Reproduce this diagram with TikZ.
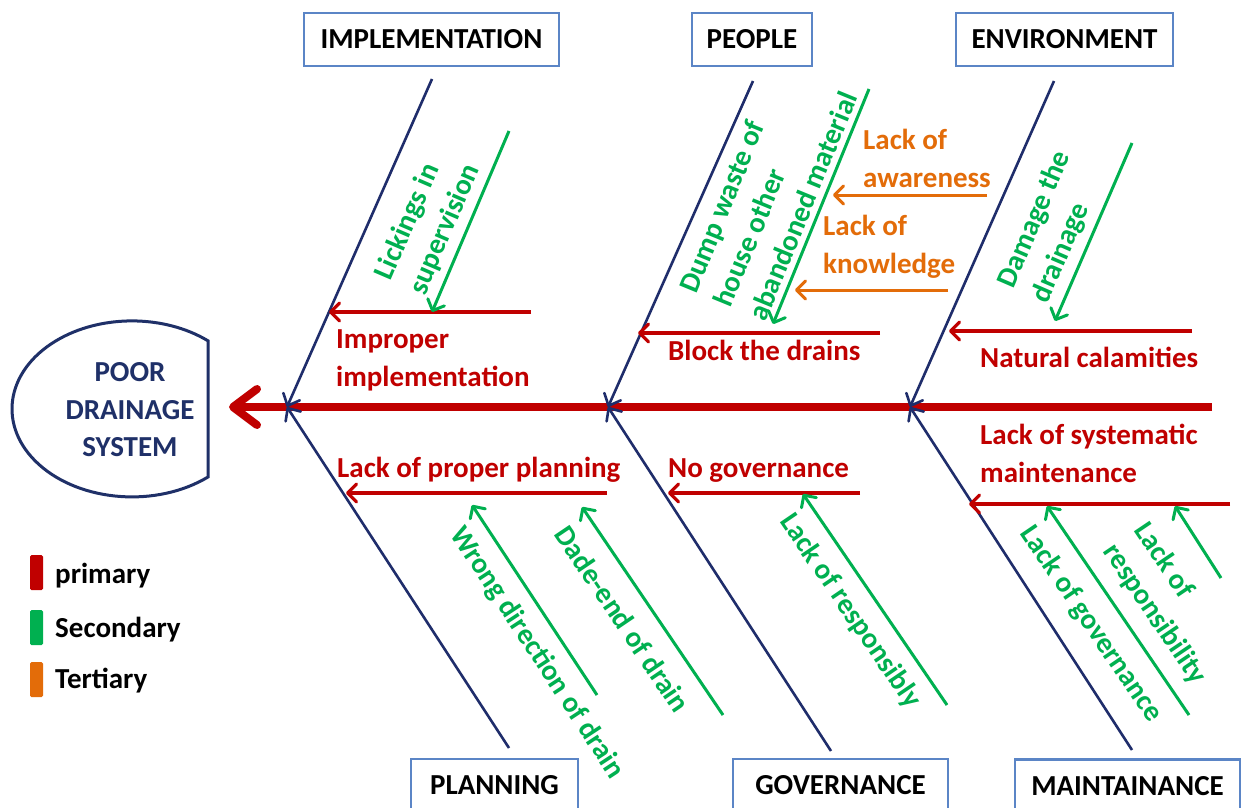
\documentclass[tikz,border=0pt]{standalone}
\usepackage{fontspec}
\setmainfont{Carlito}
\usetikzlibrary{arrows.meta}
\definecolor{pri}{HTML}{C00000}
\definecolor{sec}{HTML}{00B050}
\definecolor{ter}{HTML}{E36C09}
\definecolor{bone}{HTML}{1F2D6B}
\definecolor{headc}{HTML}{1F3068}
\definecolor{boxc}{HTML}{5B85C6}
\begin{document}
\begin{tikzpicture}[x=1pt,y=-1pt,
  lbl/.style={font=\fontsize{29}{37.5}\selectfont\bfseries, inner sep=0pt, align=left},
  catbox/.style={draw=boxc, line width=2.2pt, fill=white, font=\fontsize{29}{34}\selectfont\bfseries, minimum height=53pt, inner sep=0pt, text=black},
  bonearrow/.style={draw=bone, line width=2.6pt, -{Straight Barb[length=10pt,width=18pt,round]}},
  priarrow/.style={draw=pri, line width=3.2pt, -{Straight Barb[length=9pt,width=18pt,round]}},
  secarrow/.style={draw=sec, line width=3pt, -{Straight Barb[length=9pt,width=18pt,round]}},
  terarrow/.style={draw=ter, line width=3pt, -{Straight Barb[length=9pt,width=18pt,round]}},
  prilbl/.style={lbl, text=pri, anchor=base west},
  seclbl/.style={lbl, text=sec, anchor=center},
  terlbl/.style={lbl, text=ter, anchor=base west},
  legbar/.style={rounded corners=1.5pt},
  leglbl/.style={lbl, text=black, anchor=base west}
]
\useasboundingbox (0,0) rectangle (1243,808);
\clip (0,0) rectangle (1243,808);
\fill[white] (0,0) rectangle (1243,808);

% head
\draw[headc, line width=3pt] (208,477) arc[start angle=-50.7, end angle=-309.3, x radius=120pt, y radius=88pt] -- cycle;
\node[lbl, text=headc, align=center, anchor=center] (head) at (130,410) {POOR\\DRAINAGE\\SYSTEM};

% spine
\coordinate (spS) at (1212,407);
\coordinate (spT) at (229,407);
\draw[pri, line width=8pt, -{Straight Barb[length=24pt,width=36pt,round]}] (spS) -- (spT);

% category boxes
\node[catbox, minimum width=255pt] (impl) at (431.5,39.5) {IMPLEMENTATION};
\node[catbox, minimum width=120pt] (people) at (752,39.5) {PEOPLE};
\node[catbox, minimum width=217pt] (env) at (1064.5,39.5) {ENVIRONMENT};
\node[catbox, minimum width=167pt] (plan) at (494.5,785.5) {PLANNING};
\node[catbox, minimum width=215pt] (gov) at (840.5,785.5) {GOVERNANCE};
\node[catbox, minimum width=225pt] (maint) at (1127.5,786) {MAINTAINANCE};

% bones
\coordinate (j1) at (287,407);
\coordinate (j2) at (608,407);
\coordinate (j3) at (910,407);
\coordinate (u1) at (432,79);
\coordinate (u2) at (753,81);
\coordinate (u3) at (1054,81);
\coordinate (l1) at (509,748);
\coordinate (l2) at (831,751);
\coordinate (l3) at (1132,750);
\draw[bonearrow] (u1) -- (j1);
\draw[bonearrow] (u2) -- (j2);
\draw[bonearrow] (u3) -- (j3);
\draw[bonearrow] (l1) -- (j1);
\draw[bonearrow] (l2) -- (j2);
\draw[bonearrow] (l3) -- (j3);

% primary causes
\coordinate (p1s) at (531,312); \coordinate (p1t) at (329,312);
\coordinate (p2s) at (880,333); \coordinate (p2t) at (638,333);
\coordinate (p3s) at (1192,331); \coordinate (p3t) at (949,331);
\coordinate (p4s) at (607,493); \coordinate (p4t) at (346,493);
\coordinate (p5s) at (860,493); \coordinate (p5t) at (668,493);
\coordinate (p6s) at (1230,504); \coordinate (p6t) at (969,504);
\draw[priarrow] (p1s) -- (p1t);
\draw[priarrow] (p2s) -- (p2t);
\draw[priarrow] (p3s) -- (p3t);
\draw[priarrow] (p4s) -- (p4t);
\draw[priarrow] (p5s) -- (p5t);
\draw[priarrow] (p6s) -- (p6t);
\node[prilbl] (p1l) at (336,386) {Improper\\implementation};
\node[prilbl] (p2l) at (668,360) {Block the drains};
\node[prilbl] (p3l) at (980,367) {Natural calamities};
\node[prilbl] (p4l) at (337,477) {Lack of proper planning};
\node[prilbl] (p5l) at (668,477) {No governance};
\node[prilbl] (p6l) at (980,482) {Lack of systematic\\maintenance};

% secondary causes
\coordinate (s1s) at (509,131);  \coordinate (s1t) at (432,312);
\coordinate (s2s) at (869,89);   \coordinate (s2t) at (773,324);
\coordinate (s3s) at (1132,143); \coordinate (s3t) at (1055,321);
\coordinate (s4s) at (597,695);  \coordinate (s4t) at (472,505);
\coordinate (s5s) at (723,715);  \coordinate (s5t) at (582,507);
\coordinate (s6s) at (947,705);  \coordinate (s6t) at (803,494);
\coordinate (s7s) at (1189,715); \coordinate (s7t) at (1047,506);
\coordinate (s8s) at (1221,578); \coordinate (s8t) at (1175,506);
\draw[secarrow] (s1s) -- (s1t);
\draw[secarrow] (s2s) -- (s2t);
\draw[secarrow] (s3s) -- (s3t);
\draw[secarrow] (s4s) -- (s4t);
\draw[secarrow] (s5s) -- (s5t);
\draw[secarrow] (s6s) -- (s6t);
\draw[secarrow] (s7s) -- (s7t);
\draw[secarrow] (s8s) -- (s8t);
\node[seclbl, rotate=66.7] (s1l) at (428,222) {Lickings in\\supervision};
\node[seclbl, rotate=67.7] (s2l) at (768,192) {Dump waste of\\house other\\abandoned material};
\node[seclbl, rotate=66.7] (s3l) at (1052,227) {Damage the\\drainage};
\node[seclbl, rotate=-56.7] (s4l) at (537,653) {Wrong direction of drain};
\node[seclbl, rotate=-55.9] (s5l) at (623,619) {Dade-end of drain};
\node[seclbl, rotate=-55.7] (s6l) at (850,611) {Lack of responsibly};
\node[seclbl, rotate=-55.8] (s7l) at (1091,624) {Lack of governance};
\node[seclbl, rotate=-56] (s8l) at (1170,604) {Lack of\\responsibility};

% tertiary causes
\coordinate (t1s) at (987,195); \coordinate (t1t) at (833,195);
\coordinate (t2s) at (948,290); \coordinate (t2t) at (795,290);
\draw[terarrow] (t1s) -- (t1t);
\draw[terarrow] (t2s) -- (t2t);
\node[terlbl] (t1l) at (863,187) {Lack of\\awareness};
\node[terlbl] (t2l) at (823,273) {Lack of\\knowledge};

% legend
\fill[pri, legbar] (30,555) rectangle (43,590);
\fill[sec, legbar] (30,610) rectangle (43,645);
\fill[ter, legbar] (30,662) rectangle (43,697);
\node[leglbl] (lg1) at (55,583) {primary};
\node[leglbl] (lg2) at (55,637) {Secondary};
\node[leglbl] (lg3) at (55,688) {Tertiary};
\end{tikzpicture}
\end{document}
